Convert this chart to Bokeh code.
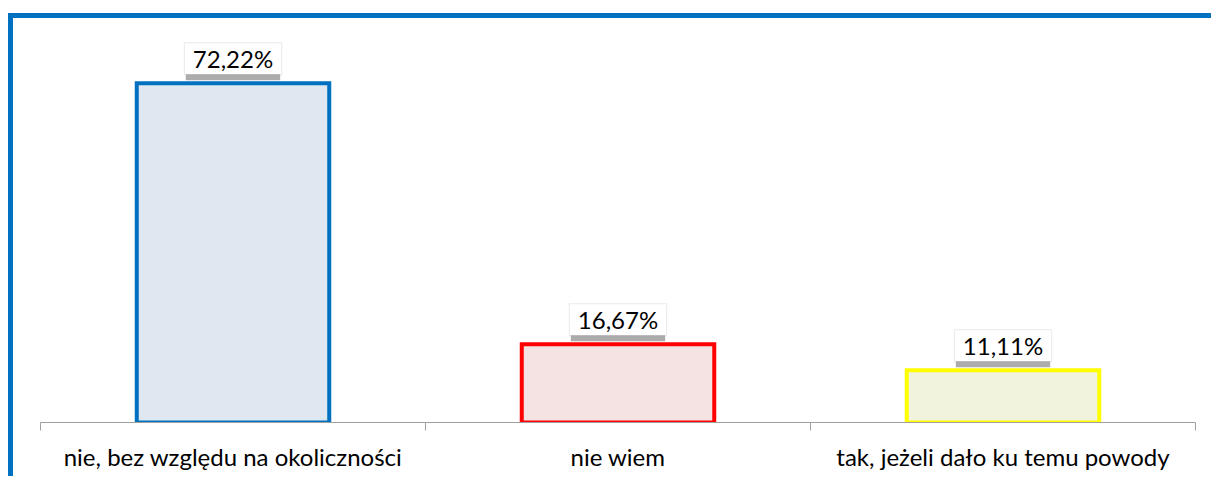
from bokeh.plotting import figure
from bokeh.models import Range1d, LinearAxis, FixedTicker
from bokeh.embed import file_html
from bokeh.resources import INLINE
from bokeh.core.properties import value

categories = ["nie, bez względu na okoliczności", "nie wiem", "tak, jeżeli dało ku temu powody"]
values = [72.22, 16.67, 11.11]
value_labels = ["72,22%", "16,67%", "11,11%"]
fill_colors = ["#DFE8F0", "#F5E3E3", "#F2F3DC"]
line_colors = ["#0070C0", "#FF0000", "#FFFF00"]

n = len(categories)
centers = [i + 0.5 for i in range(n)]
bounds = [float(i) for i in range(n + 1)]

FONT = "Lato"

p = figure(width=1203, height=463, output_backend="svg", toolbar_location=None,
           x_range=Range1d(0, n), y_range=Range1d(0, 86),
           x_axis_location=None, y_axis_location=None,
           min_border_left=27, min_border_right=21, min_border_top=0, min_border_bottom=59)
p.styles = {"margin-left": "8px", "margin-top": "13px",
            "border-top": "5px solid #0070C0", "border-left": "5px solid #0070C0"}
p.outline_line_color = None
p.xgrid.visible = False
p.ygrid.visible = False

p.vbar(x=centers, top=values, width=0.5, bottom=0, fill_color=fill_colors,
       line_color=line_colors, line_width=4, line_join="miter")

# soft halo and shadow of label boxes
p.text(x=centers, y=values, text=value_labels, text_alpha=0,
       text_font=value(FONT), text_font_size="24px",
       text_align="center", text_baseline="bottom", x_offset=0, y_offset=-8,
       background_fill_color="#BFBFBF", background_fill_alpha=0.35,
       padding=dict(x=9, y=2))
p.text(x=centers, y=values, text=value_labels, text_alpha=0,
       text_font=value(FONT), text_font_size="24px",
       text_align="center", text_baseline="bottom", x_offset=0, y_offset=-3,
       background_fill_color="#7F7F7F", background_fill_alpha=0.65,
       padding=dict(x=7, y=1))
# label boxes
p.text(x=centers, y=values, text=value_labels, text_color="#000000",
       text_font=value(FONT), text_font_size="24px",
       text_align="center", text_baseline="bottom", x_offset=0, y_offset=-9,
       background_fill_color="#FFFFFF", padding=dict(x=8, y=1))

ax = LinearAxis(ticker=FixedTicker(ticks=centers, minor_ticks=bounds))
ax.major_label_overrides = {c: lab for c, lab in zip(centers, categories)}
ax.axis_line_color = "#A0A0A0"
ax.axis_line_width = 1
ax.major_tick_line_color = None
ax.major_tick_out = 0
ax.major_tick_in = 0
ax.minor_tick_line_color = "#A0A0A0"
ax.minor_tick_out = 8
ax.minor_tick_in = 0
ax.major_label_text_font = FONT
ax.major_label_text_font_size = "24px"
ax.major_label_text_color = "#000000"
ax.major_label_standoff = 11
p.add_layout(ax, "below")

open("out.html", "w").write(file_html(p, INLINE))
